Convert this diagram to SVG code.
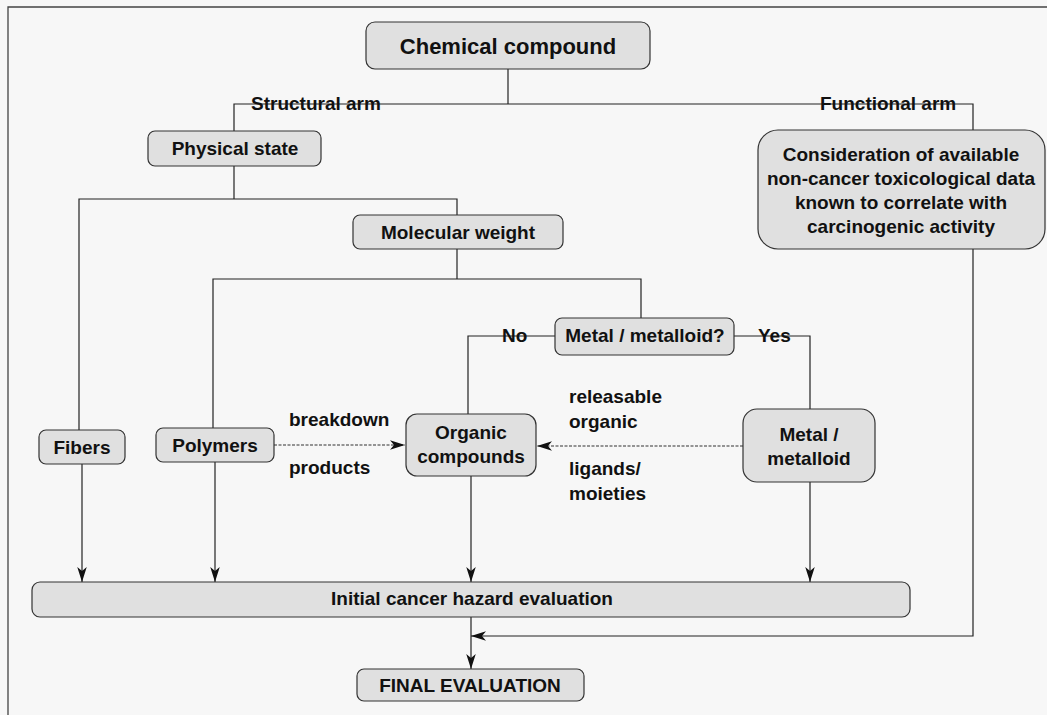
<svg xmlns="http://www.w3.org/2000/svg" width="1047" height="715" viewBox="0 0 1047 715">
<defs>
<marker id="ah" markerUnits="userSpaceOnUse" markerWidth="16" markerHeight="10" refX="15" refY="4.75" orient="auto">
<path d="M0,0 L15,4.75 L0,9.5 L4,4.75 Z" fill="#111"/>
</marker>
<style>
.box{fill:#e0e0e0;stroke:#333;stroke-width:1.2}
.t{font-family:"Liberation Sans",Arial,sans-serif;font-weight:bold;font-size:19px;fill:#111;text-anchor:middle}
.l{font-family:"Liberation Sans",Arial,sans-serif;font-weight:bold;font-size:19px;fill:#111}
.c{fill:none;stroke:#222;stroke-width:1.2}
.d{fill:none;stroke:#333;stroke-width:1.1;stroke-dasharray:3,1.5}
</style>
</defs>
<rect width="1047" height="715" fill="#f7f7f7"/>
<path d="M8,715 V7 H1047" fill="none" stroke="#444" stroke-width="1.3"/>

<g id="connectors">
<path class="c" d="M508,69 V104"/>
<path class="c" d="M234,131 V104 H973 V130"/>
<path class="c" d="M234,166 V199"/>
<path class="c" d="M79,430 V199 H457 V215"/>
<path class="c" d="M457,249 V279"/>
<path class="c" d="M213,428 V279 H641 V318"/>
<path class="c" d="M555,336 H468 V414"/>
<path class="c" d="M734,336 H810 V409"/>
<path class="d" d="M274,445 H405" marker-end="url(#ah)"/>
<path class="d" d="M743,446 H537" marker-end="url(#ah)"/>
<path class="c" d="M82,464 V582" marker-end="url(#ah)"/>
<path class="c" d="M215,462 V582" marker-end="url(#ah)"/>
<path class="c" d="M471,476 V582" marker-end="url(#ah)"/>
<path class="c" d="M810,482 V582" marker-end="url(#ah)"/>
<path class="c" d="M471,617 V669" marker-end="url(#ah)"/>
<path class="c" d="M973,249 V636 H471" marker-end="url(#ah)"/>
<text class="l" x="251" y="110">Structural arm</text>
<text class="l" x="820" y="110">Functional arm</text>
<text class="l" x="502" y="342">No</text>
<text class="l" x="758" y="342">Yes</text>
<text class="l" x="289" y="426">breakdown</text>
<text class="l" x="289" y="474">products</text>
<text class="l" x="569" y="403">releasable</text>
<text class="l" x="569" y="428">organic</text>
<text class="l" x="569" y="475">ligands/</text>
<text class="l" x="569" y="500">moieties</text>
</g>

<g id="chemical">
<rect class="box" x="366" y="22" width="284" height="47" rx="9"/>
<text class="t" x="508" y="54" style="font-size:22px">Chemical compound</text>
</g>
<g id="physical">
<rect class="box" x="148" y="131" width="173" height="35" rx="7"/>
<text class="t" x="235" y="155">Physical state</text>
</g>
<g id="consideration">
<rect class="box" x="758" y="130" width="287" height="119" rx="20"/>
<text class="t" x="901" y="161">Consideration of available</text>
<text class="t" x="901" y="185">non-cancer toxicological data</text>
<text class="t" x="901" y="209">known to correlate with</text>
<text class="t" x="901" y="233">carcinogenic activity</text>
</g>
<g id="molecular">
<rect class="box" x="353" y="215" width="210" height="34" rx="7"/>
<text class="t" x="458" y="239">Molecular weight</text>
</g>
<g id="metalq">
<rect class="box" x="555" y="318" width="179" height="37" rx="7"/>
<text class="t" x="645" y="342">Metal / metalloid?</text>
</g>
<g id="fibers">
<rect class="box" x="39" y="430" width="86" height="34" rx="7"/>
<text class="t" x="82" y="454">Fibers</text>
</g>
<g id="polymers">
<rect class="box" x="156" y="428" width="118" height="34" rx="7"/>
<text class="t" x="215" y="452">Polymers</text>
</g>
<g id="organic">
<rect class="box" x="406" y="414" width="130" height="62" rx="11"/>
<text class="t" x="471" y="439">Organic</text>
<text class="t" x="471" y="463">compounds</text>
</g>
<g id="metal">
<rect class="box" x="743" y="409" width="132" height="73" rx="14"/>
<text class="t" x="809" y="441">Metal /</text>
<text class="t" x="809" y="465">metalloid</text>
</g>
<g id="initial">
<rect class="box" x="32" y="582" width="878" height="35" rx="8"/>
<text class="t" x="472" y="605">Initial cancer hazard evaluation</text>
</g>
<g id="final">
<rect class="box" x="357" y="669" width="227" height="32" rx="7"/>
<text class="t" x="470" y="692">FINAL EVALUATION</text>
</g>
</svg>
